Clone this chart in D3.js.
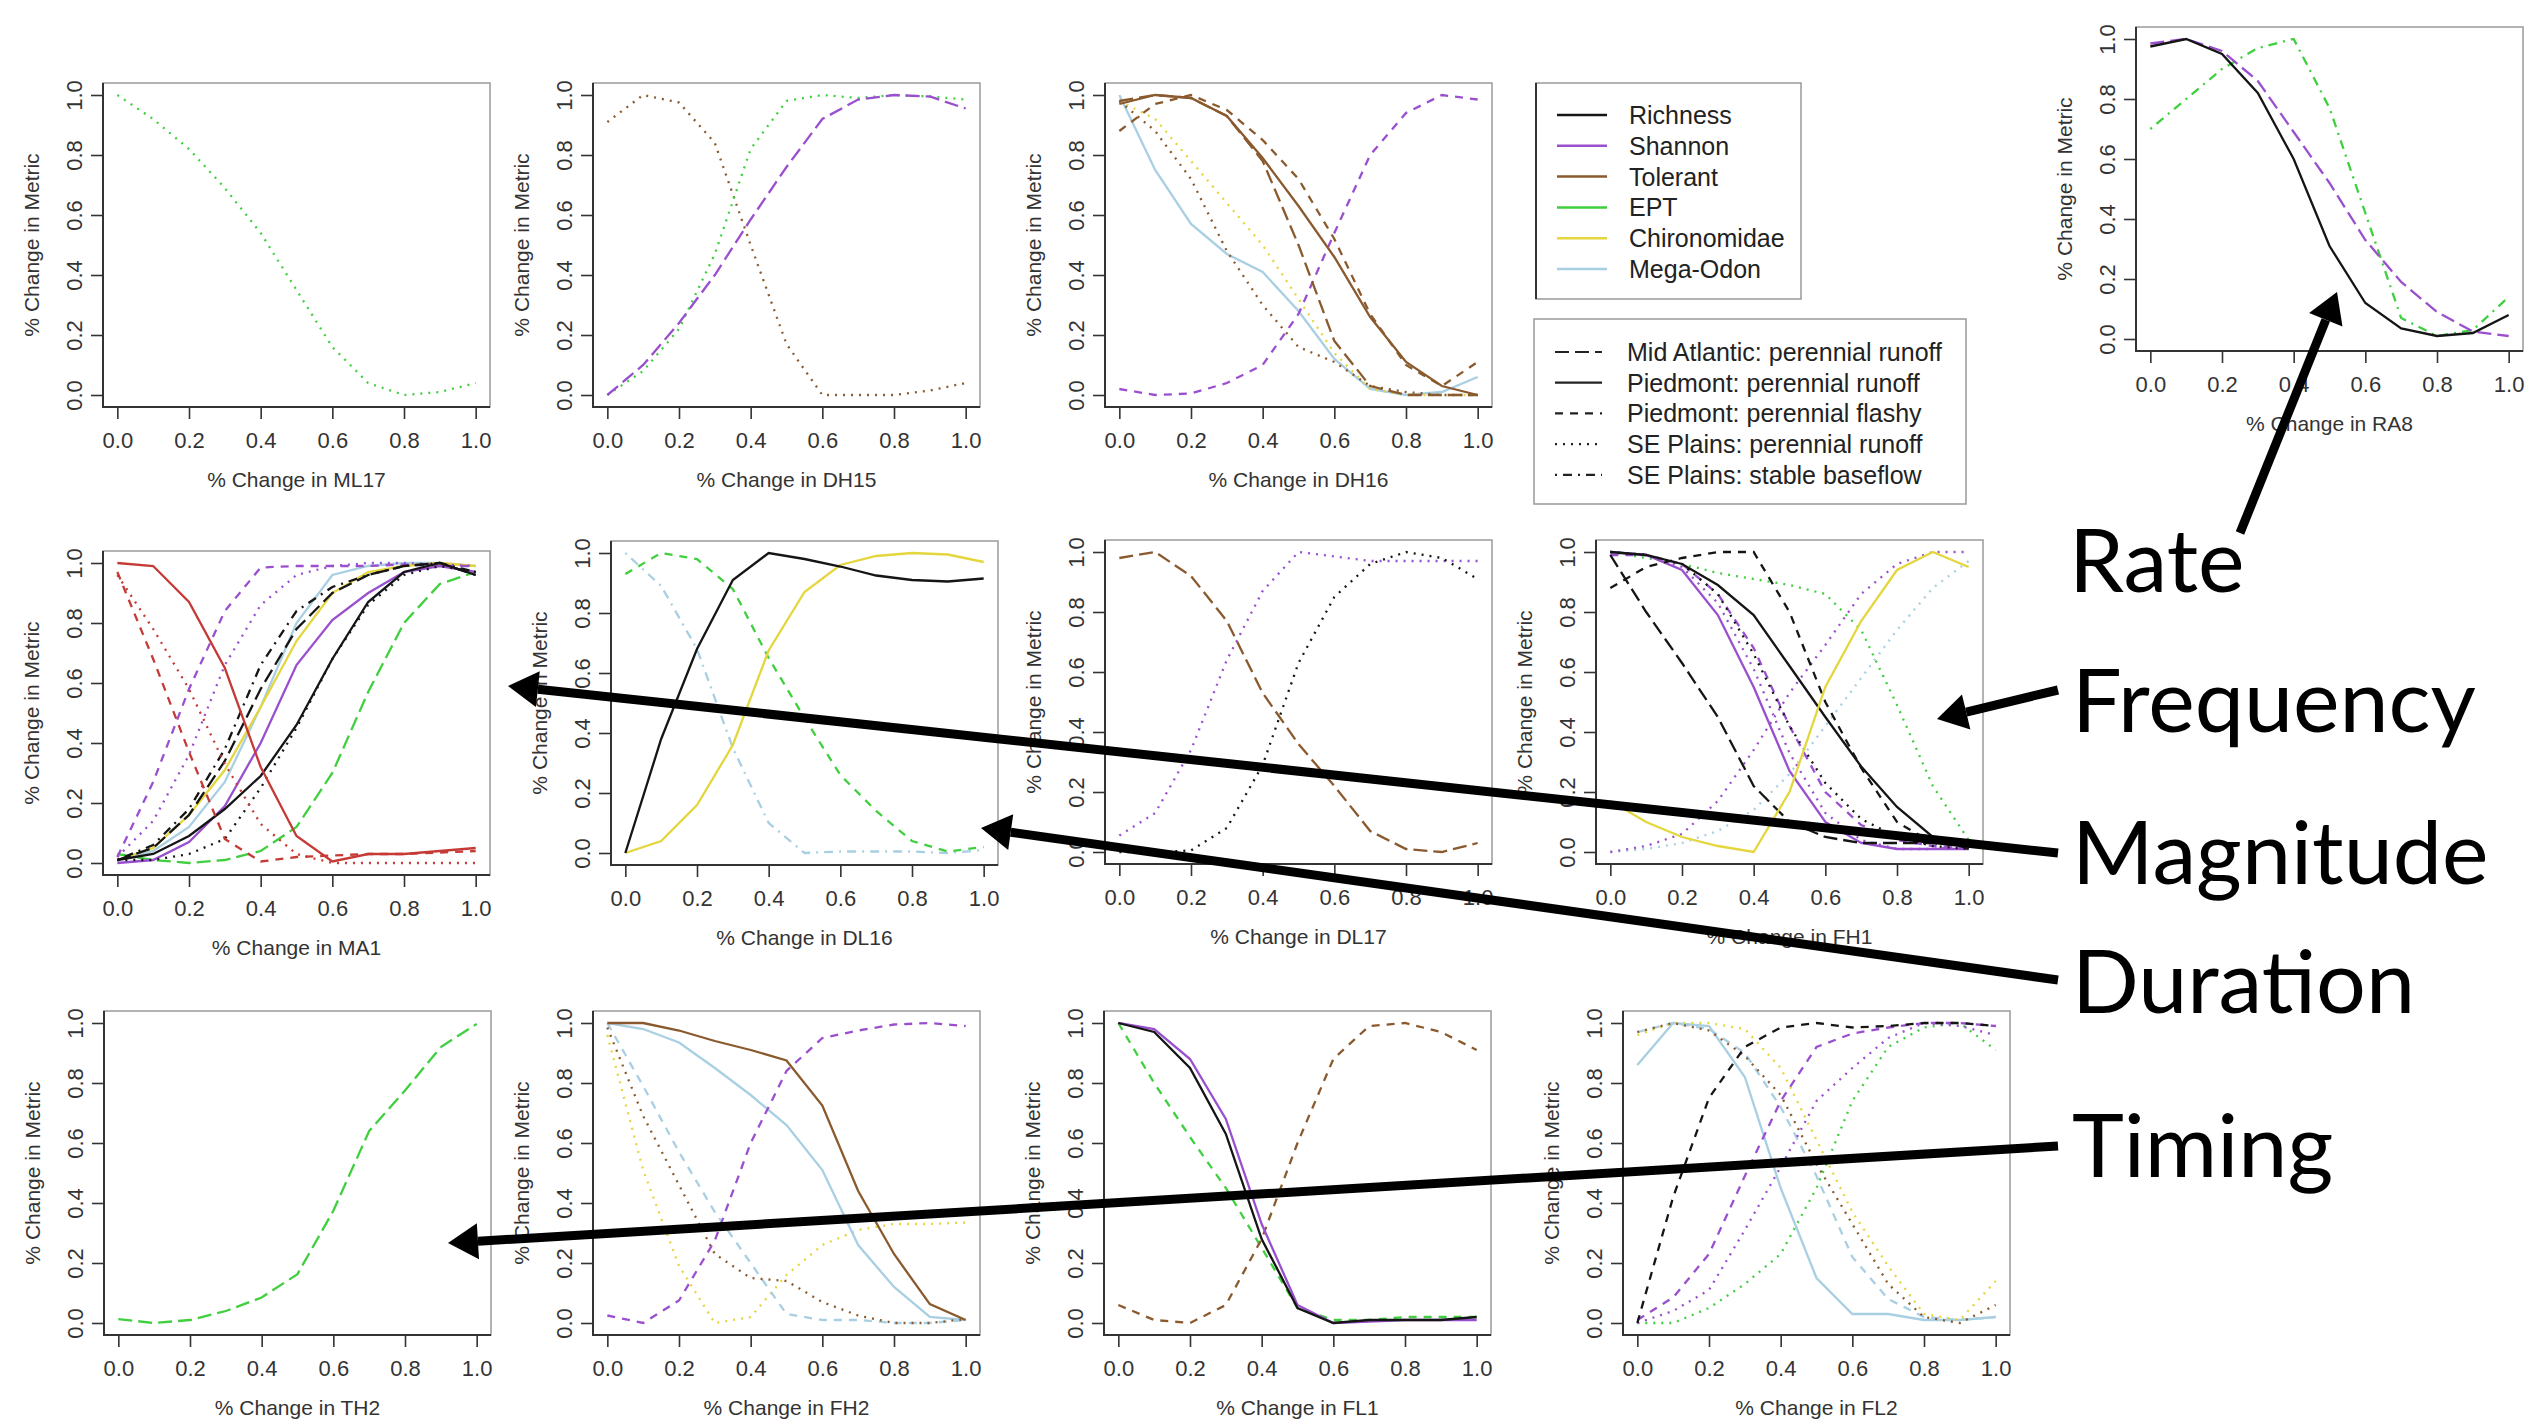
<!DOCTYPE html>
<html>
<head>
<meta charset="utf-8">
<script src="https://cdn.jsdelivr.net/npm/d3@7"></script>
<style>
  body { margin: 0; background: #fff; }
  svg { display: block; }
</style>
</head>
<body>
<script>
// x positions of every curve and the axis ticks
const xs = [0, 0.1, 0.2, 0.3, 0.4, 0.5, 0.6, 0.7, 0.8, 0.9, 1.0];
const ticks = [0, 0.2, 0.4, 0.6, 0.8, 1.0];

const metrics = ["Richness", "Shannon", "Tolerant", "EPT", "Chironomidae", "Mega-Odon"];
const regions = ["Mid Atlantic: perennial runoff", "Piedmont: perennial runoff",
  "Piedmont: perennial flashy", "SE Plains: perennial runoff", "SE Plains: stable baseflow"];
const annotations = ["Rate", "Frequency", "Magnitude", "Duration", "Timing"];

// m = metric, r = index in regions, v = value at each xs
const ML17 = [
  { m: "EPT", r: 3, v: [1.0, 0.92, 0.82, 0.69, 0.54, 0.35, 0.16, 0.04, 0.0, 0.01, 0.04] }
];
const DH15 = [
  { m: "Tolerant", r: 3, v: [0.91, 1.0, 0.975, 0.84, 0.50, 0.17, 0.0, 0.0, 0.0, 0.015, 0.04] },
  { m: "EPT", r: 3, v: [0.0, 0.08, 0.22, 0.47, 0.82, 0.98, 1.0, 0.99, 1.0, 0.995, 0.985] },
  { m: "Shannon", r: 0, v: [0.0, 0.10, 0.24, 0.40, 0.585, 0.76, 0.92, 0.985, 1.0, 0.995, 0.955] }
];
const DH16 = [
  { m: "Mega-Odon", r: 1, v: [1.0, 0.75, 0.57, 0.47, 0.41, 0.28, 0.12, 0.02, 0.0, 0.01, 0.06] },
  { m: "Chironomidae", r: 3, v: [0.98, 0.92, 0.78, 0.64, 0.50, 0.32, 0.14, 0.02, 0.0, 0.0, 0.0] },
  { m: "Shannon", r: 2, v: [0.02, 0.0, 0.005, 0.04, 0.10, 0.27, 0.54, 0.80, 0.94, 1.0, 0.985] },
  { m: "Tolerant", r: 3, v: [0.98, 0.88, 0.72, 0.48, 0.30, 0.16, 0.11, 0.03, 0.01, 0.0, 0.0] },
  { m: "Tolerant", r: 0, v: [0.98, 1.0, 0.99, 0.93, 0.78, 0.50, 0.18, 0.03, 0.0, 0.0, 0.0] },
  { m: "Tolerant", r: 2, v: [0.88, 0.97, 1.0, 0.95, 0.85, 0.72, 0.52, 0.27, 0.10, 0.03, 0.11] },
  { m: "Tolerant", r: 1, v: [0.97, 1.0, 0.99, 0.93, 0.79, 0.63, 0.46, 0.26, 0.11, 0.03, 0.0] }
];
const RA8 = [
  { m: "EPT", r: 4, v: [0.70, 0.80, 0.90, 0.97, 1.0, 0.77, 0.42, 0.07, 0.01, 0.03, 0.14] },
  { m: "Shannon", r: 0, v: [0.985, 1.0, 0.96, 0.86, 0.69, 0.52, 0.33, 0.19, 0.09, 0.025, 0.01] },
  { m: "Richness", r: 1, v: [0.975, 1.0, 0.95, 0.82, 0.60, 0.31, 0.12, 0.035, 0.01, 0.02, 0.08] }
];
const MA1 = [
  { m: "EPT", r: 0, v: [0.03, 0.01, 0.0, 0.01, 0.04, 0.12, 0.30, 0.57, 0.80, 0.93, 0.97] },
  { m: "Mega-Odon", r: 1, v: [0.01, 0.04, 0.12, 0.27, 0.52, 0.80, 0.96, 0.99, 1.0, 1.0, 0.99] },
  { m: "Chironomidae", r: 1, v: [0.01, 0.05, 0.16, 0.31, 0.52, 0.74, 0.90, 0.97, 0.99, 1.0, 0.99] },
  { m: "Shannon", r: 2, v: [0.02, 0.27, 0.58, 0.84, 0.985, 0.99, 0.99, 0.99, 0.995, 0.99, 0.99] },
  { m: "Shannon", r: 3, v: [0.02, 0.14, 0.36, 0.66, 0.86, 0.96, 0.99, 1.0, 1.0, 0.995, 0.99] },
  { m: "Shannon", r: 1, v: [0.0, 0.01, 0.07, 0.19, 0.40, 0.66, 0.81, 0.90, 0.97, 0.99, 0.97] },
  { m: "Richness", r: 4, v: [0.01, 0.06, 0.18, 0.38, 0.66, 0.84, 0.92, 0.96, 0.99, 1.0, 0.97] },
  { m: "Richness", r: 0, v: [0.01, 0.05, 0.16, 0.34, 0.58, 0.78, 0.90, 0.96, 0.99, 1.0, 0.96] },
  { m: "Richness", r: 1, v: [0.01, 0.03, 0.09, 0.18, 0.29, 0.46, 0.68, 0.87, 0.97, 1.0, 0.96] },
  { m: "Richness", r: 3, v: [0.01, 0.01, 0.03, 0.08, 0.25, 0.45, 0.68, 0.86, 0.96, 0.99, 0.97] },
  { m: "Tolerant", r: 3, v: [0.96, 0.78, 0.58, 0.33, 0.13, 0.03, 0.0, 0.0, 0.0, 0.0, 0.0] },
  { m: "Tolerant", r: 2, v: [0.97, 0.68, 0.37, 0.08, 0.005, 0.02, 0.025, 0.03, 0.03, 0.035, 0.04] },
  { m: "Tolerant", r: 1, v: [1.0, 0.99, 0.87, 0.65, 0.32, 0.09, 0.005, 0.03, 0.03, 0.04, 0.05] }
];
const DL16 = [
  { m: "Mega-Odon", r: 4, v: [1.0, 0.89, 0.68, 0.35, 0.10, 0.0, 0.005, 0.005, 0.005, 0.0, 0.01] },
  { m: "EPT", r: 2, v: [0.93, 1.0, 0.98, 0.88, 0.65, 0.45, 0.26, 0.14, 0.04, 0.005, 0.02] },
  { m: "Chironomidae", r: 1, v: [0.0, 0.04, 0.16, 0.36, 0.675, 0.87, 0.96, 0.99, 1.0, 0.995, 0.97] },
  { m: "Richness", r: 1, v: [0.0, 0.38, 0.68, 0.91, 1.0, 0.98, 0.955, 0.925, 0.91, 0.905, 0.915] }
];
const DL17 = [
  { m: "Tolerant", r: 0, v: [0.98, 1.0, 0.92, 0.77, 0.53, 0.36, 0.22, 0.07, 0.01, 0.0, 0.03] },
  { m: "Shannon", r: 3, v: [0.055, 0.13, 0.34, 0.64, 0.87, 1.0, 0.985, 0.97, 0.97, 0.97, 0.97] },
  { m: "Richness", r: 3, v: [0.0, 0.0, 0.005, 0.08, 0.29, 0.63, 0.85, 0.96, 1.0, 0.98, 0.91] }
];
const FH1 = [
  { m: "Mega-Odon", r: 3, v: [0.0, 0.01, 0.03, 0.07, 0.14, 0.26, 0.42, 0.58, 0.74, 0.88, 0.97] },
  { m: "EPT", r: 3, v: [1.0, 0.98, 0.96, 0.93, 0.91, 0.89, 0.86, 0.74, 0.49, 0.22, 0.04] },
  { m: "Shannon", r: 3, v: [0.0, 0.02, 0.06, 0.17, 0.34, 0.53, 0.69, 0.86, 0.96, 1.0, 1.0] },
  { m: "Shannon", r: 2, v: [0.99, 0.99, 0.96, 0.86, 0.68, 0.42, 0.20, 0.09, 0.04, 0.02, 0.01] },
  { m: "Shannon", r: 3, v: [1.0, 0.99, 0.95, 0.83, 0.61, 0.33, 0.13, 0.04, 0.01, 0.01, 0.02] },
  { m: "Shannon", r: 1, v: [1.0, 0.99, 0.94, 0.79, 0.55, 0.27, 0.10, 0.03, 0.01, 0.01, 0.01] },
  { m: "Richness", r: 3, v: [1.0, 0.99, 0.96, 0.86, 0.66, 0.42, 0.23, 0.11, 0.05, 0.02, 0.01] },
  { m: "Richness", r: 0, v: [0.99, 0.80, 0.63, 0.45, 0.22, 0.10, 0.05, 0.03, 0.03, 0.03, 0.02] },
  { m: "Richness", r: 2, v: [0.88, 0.95, 0.98, 1.0, 1.0, 0.80, 0.50, 0.28, 0.10, 0.03, 0.02] },
  { m: "Richness", r: 1, v: [1.0, 0.99, 0.96, 0.89, 0.79, 0.62, 0.45, 0.285, 0.15, 0.05, 0.01] },
  { m: "Chironomidae", r: 1, v: [0.17, 0.10, 0.05, 0.02, 0.0, 0.20, 0.55, 0.77, 0.94, 1.0, 0.95] }
];
const TH2 = [
  { m: "EPT", r: 0, v: [0.013, 0.0, 0.01, 0.04, 0.085, 0.163, 0.374, 0.64, 0.775, 0.92, 0.997] }
];
const FH2 = [
  { m: "Chironomidae", r: 3, v: [0.96, 0.51, 0.19, 0.0, 0.02, 0.16, 0.26, 0.31, 0.33, 0.33, 0.335] },
  { m: "Mega-Odon", r: 2, v: [1.0, 0.79, 0.57, 0.37, 0.20, 0.03, 0.01, 0.01, 0.0, 0.0, 0.01] },
  { m: "Mega-Odon", r: 1, v: [1.0, 0.98, 0.935, 0.85, 0.76, 0.66, 0.51, 0.26, 0.12, 0.02, 0.01] },
  { m: "Tolerant", r: 3, v: [0.985, 0.69, 0.46, 0.23, 0.15, 0.14, 0.07, 0.025, 0.0, 0.0, 0.013] },
  { m: "Shannon", r: 2, v: [0.025, 0.0, 0.075, 0.275, 0.60, 0.84, 0.95, 0.975, 0.995, 1.0, 0.99] },
  { m: "Tolerant", r: 1, v: [1.0, 1.0, 0.975, 0.94, 0.91, 0.875, 0.725, 0.44, 0.23, 0.063, 0.01] }
];
const FL1 = [
  { m: "EPT", r: 2, v: [1.0, 0.80, 0.62, 0.45, 0.25, 0.05, 0.01, 0.01, 0.02, 0.02, 0.02] },
  { m: "Tolerant", r: 2, v: [0.06, 0.01, 0.0, 0.06, 0.28, 0.60, 0.88, 0.99, 1.0, 0.97, 0.91] },
  { m: "Shannon", r: 1, v: [1.0, 0.98, 0.88, 0.68, 0.33, 0.06, 0.0, 0.005, 0.01, 0.01, 0.01] },
  { m: "Richness", r: 1, v: [1.0, 0.97, 0.85, 0.63, 0.28, 0.05, 0.0, 0.01, 0.01, 0.01, 0.02] }
];
const FL2 = [
  { m: "Mega-Odon", r: 2, v: [0.97, 1.0, 0.98, 0.90, 0.72, 0.49, 0.22, 0.08, 0.02, 0.01, 0.02] },
  { m: "Mega-Odon", r: 1, v: [0.86, 1.0, 0.99, 0.82, 0.45, 0.15, 0.03, 0.03, 0.01, 0.01, 0.02] },
  { m: "Chironomidae", r: 3, v: [0.96, 1.0, 1.0, 0.98, 0.85, 0.61, 0.37, 0.19, 0.03, 0.01, 0.14] },
  { m: "EPT", r: 3, v: [0.0, 0.0, 0.05, 0.13, 0.23, 0.45, 0.74, 0.92, 0.985, 1.0, 0.91] },
  { m: "Shannon", r: 3, v: [0.0, 0.04, 0.11, 0.31, 0.52, 0.74, 0.85, 0.95, 1.0, 0.99, 0.96] },
  { m: "Shannon", r: 2, v: [0.01, 0.085, 0.23, 0.49, 0.74, 0.92, 0.965, 0.985, 1.0, 1.0, 0.99] },
  { m: "Tolerant", r: 3, v: [0.97, 1.0, 0.975, 0.89, 0.76, 0.53, 0.33, 0.13, 0.02, 0.0, 0.06] },
  { m: "Richness", r: 2, v: [0.0, 0.42, 0.75, 0.92, 0.985, 1.0, 0.985, 0.99, 1.0, 1.0, 0.99] }
];

// styles
const metricColor = {
  "Richness": "#151515", "Shannon": "#9a4fce", "Tolerant": "#8a5a2e",
  "EPT": "#3fcf3f", "Chironomidae": "#e4d63c", "Mega-Odon": "#a9cfe2"
};
const regionDash = ["14,6", null, "8,7", "2,6", "2,6,9,6"];
const FONT = "'Liberation Sans', Arial, Helvetica, sans-serif";

// layout (box top-left corner of each panel)
const PW = 387, PH = 324;
const panels = [
  { name: "ML17", data: ML17, left: 103, top: 83 },
  { name: "DH15", data: DH15, left: 593, top: 83 },
  { name: "DH16", data: DH16, left: 1105, top: 83 },
  { name: "RA8", data: RA8, left: 2136, top: 27 },
  { name: "MA1", data: MA1, left: 103, top: 551, recolor: { "Tolerant": "#c63a36" } },
  { name: "DL16", data: DL16, left: 611, top: 541 },
  { name: "DL17", data: DL17, left: 1105, top: 540 },
  { name: "FH1", data: FH1, left: 1596, top: 540 },
  { name: "TH2", data: TH2, left: 104, top: 1011 },
  { name: "FH2", data: FH2, left: 593, top: 1011 },
  { name: "FL1", data: FL1, left: 1104, top: 1011 },
  { name: "FL2", data: FL2, left: 1623, top: 1011 }
];

const svg = d3.select("body").append("svg")
  .attr("width", 2539)
  .attr("height", 1420);

panels.forEach(p => {
  const g = svg.append("g").attr("transform", "translate(" + p.left + "," + p.top + ")");
  const x = d3.scaleLinear().domain([-0.04, 1.04]).range([0, PW]);
  const y = d3.scaleLinear().domain([-0.04, 1.04]).range([PH, 0]);
  const line = d3.line().x((d, i) => x(xs[i])).y(d => y(d));

  g.selectAll("path.series")
    .data(p.data)
    .join("path")
    .attr("class", "series")
    .attr("d", d => line(d.v))
    .attr("fill", "none")
    .attr("stroke", d => (p.recolor && p.recolor[d.m]) || metricColor[d.m])
    .attr("stroke-width", 2.3)
    .attr("stroke-dasharray", d => regionDash[d.r]);

  // R style box: lighter top/right, darker left/bottom
  g.append("rect").attr("width", PW).attr("height", PH)
    .attr("fill", "none").attr("stroke", "#9a9a9a").attr("stroke-width", 1.5);
  g.append("path").attr("d", "M0,0V" + PH + "H" + PW)
    .attr("fill", "none").attr("stroke", "#333").attr("stroke-width", 2);

  const xa = g.append("g")
    .attr("transform", "translate(0," + PH + ")")
    .call(d3.axisBottom(x).tickValues(ticks).tickFormat(d3.format(".1f"))
      .tickSize(12).tickSizeOuter(0).tickPadding(13));
  xa.select(".domain").remove();
  xa.attr("font-size", 22).attr("font-family", FONT);
  xa.selectAll("line").attr("stroke", "#333").attr("stroke-width", 1.6);
  xa.selectAll("text").attr("fill", "#333");

  const ya = g.append("g")
    .call(d3.axisLeft(y).tickValues(ticks).tickFormat(d3.format(".1f"))
      .tickSize(12).tickSizeOuter(0));
  ya.select(".domain").remove();
  ya.attr("font-size", 22).attr("font-family", FONT);
  ya.selectAll("line").attr("stroke", "#333").attr("stroke-width", 1.6);
  ya.selectAll("text")
    .attr("x", null).attr("dy", null)
    .attr("fill", "#333")
    .attr("text-anchor", "middle")
    .attr("transform", "translate(-21,0) rotate(-90)");

  g.append("text")
    .attr("transform", "translate(-64," + y(0.5) + ") rotate(-90)")
    .attr("text-anchor", "middle")
    .attr("font-family", FONT).attr("font-size", 21).attr("fill", "#333")
    .text("% Change in Metric");

  g.append("text")
    .attr("x", x(0.5)).attr("y", PH + 80)
    .attr("text-anchor", "middle")
    .attr("font-family", FONT).attr("font-size", 21).attr("fill", "#333")
    .text("% Change in " + p.name);
});

// legends
const leg1 = svg.append("g").attr("transform", "translate(1536,83)");
leg1.append("rect").attr("width", 265).attr("height", 216)
  .attr("fill", "#fff").attr("stroke", "#999").attr("stroke-width", 1.5);
leg1.append("line").attr("x1", 0).attr("x2", 0).attr("y1", 0).attr("y2", 216)
  .attr("stroke", "#333").attr("stroke-width", 2);
metrics.forEach((m, i) => {
  const yy = 32 + i * 30.8;
  leg1.append("line").attr("x1", 21).attr("x2", 71).attr("y1", yy).attr("y2", yy)
    .attr("stroke", metricColor[m]).attr("stroke-width", 2.5);
  leg1.append("text").attr("x", 93).attr("y", yy + 9)
    .attr("font-family", FONT).attr("font-size", 25).attr("fill", "#222").text(m);
});

const leg2 = svg.append("g").attr("transform", "translate(1534,319)");
leg2.append("rect").attr("width", 432).attr("height", 185)
  .attr("fill", "#fff").attr("stroke", "#999").attr("stroke-width", 1.5);
regions.forEach((r, i) => {
  const yy = 33 + i * 30.7;
  leg2.append("line").attr("x1", 21).attr("x2", 68).attr("y1", yy).attr("y2", yy)
    .attr("stroke", "#222").attr("stroke-width", 2.2)
    .attr("stroke-dasharray", regionDash[i]);
  leg2.append("text").attr("x", 93).attr("y", yy + 9)
    .attr("font-family", FONT).attr("font-size", 25).attr("fill", "#222").text(r);
});

// annotation words and arrows
const annotPos = [[2069, 592], [2072, 732], [2072, 884], [2072, 1013], [2072, 1177]];
annotations.forEach((t, i) => {
  svg.append("text").attr("x", annotPos[i][0]).attr("y", annotPos[i][1])
    .attr("font-family", "Lato, 'Open Sans', sans-serif").attr("font-size", 88)
    .attr("fill", "#000").text(t);
});

const arrows = [
  { from: [2240, 533], to: [2337, 292] },
  { from: [2058, 690], to: [1937, 719] },
  { from: [2058, 853], to: [508, 686] },
  { from: [2058, 980], to: [981, 828] },
  { from: [2058, 1146], to: [448, 1243] }
];
arrows.forEach(a => {
  const [x1, y1] = a.from, [x2, y2] = a.to;
  const ang = Math.atan2(y2 - y1, x2 - x1);
  const hl = 30, hw = 18;
  const bx = x2 - hl * Math.cos(ang), by = y2 - hl * Math.sin(ang);
  svg.append("line").attr("x1", x1).attr("y1", y1).attr("x2", bx).attr("y2", by)
    .attr("stroke", "#000").attr("stroke-width", 9);
  const px = -Math.sin(ang) * hw, py = Math.cos(ang) * hw;
  svg.append("polygon")
    .attr("points", [[x2, y2], [bx + px, by + py], [bx - px, by - py]].map(q => q.join(",")).join(" "))
    .attr("fill", "#000");
});
</script>
</body>
</html>
